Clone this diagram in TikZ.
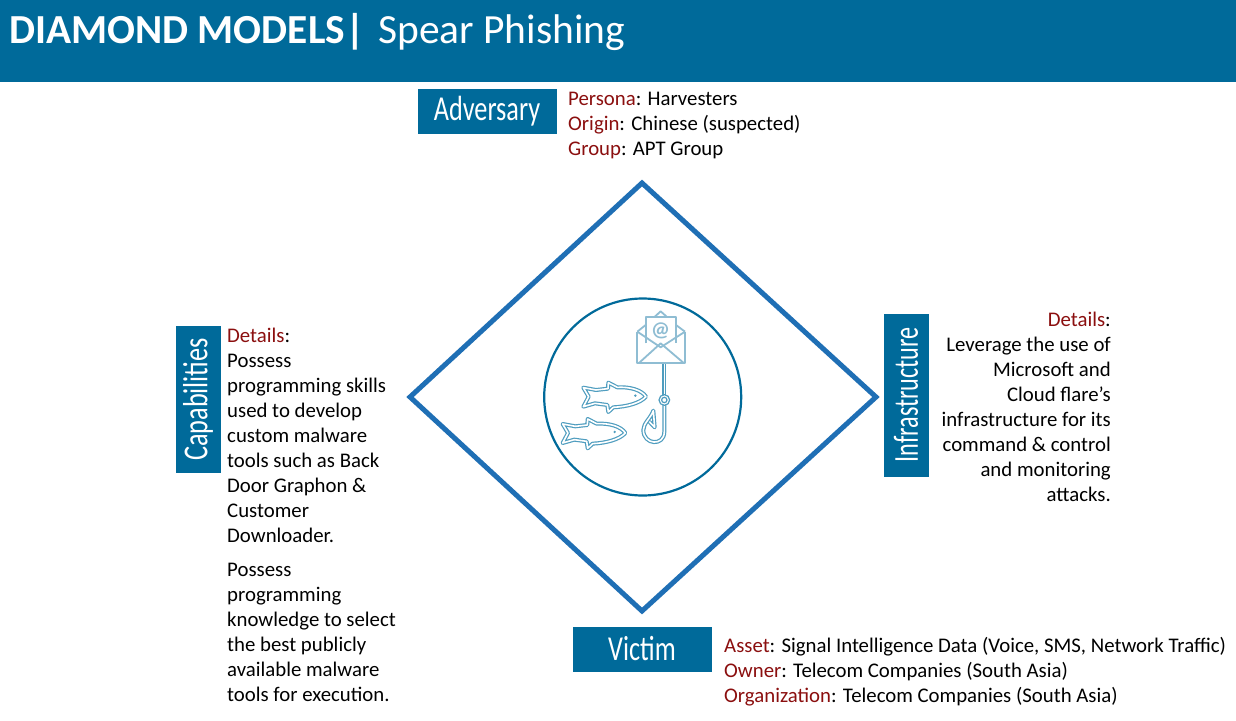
\documentclass[tikz,border=0pt]{standalone}
\usepackage{fontspec}
\setmainfont{Carlito}
\definecolor{hdr}{HTML}{006A9A}
\definecolor{dia}{HTML}{1F6FB5}
\definecolor{redt}{HTML}{8B0F0F}
\definecolor{lite}{HTML}{8FBDD3}
\definecolor{mid}{HTML}{4F9DBF}
\newcommand{\rd}[1]{\textcolor{redt}{#1}}
\newcommand{\lbl}[2][.75]{\scalebox{#1}[1]{\fontsize{35}{37}\selectfont #2}}
\tikzset{
 px/.style={x=1pt,y=-1pt},
 labelbox/.style={fill=hdr,text=white,inner sep=0pt},
 body/.style={inner sep=0pt,font=\fontsize{20.8}{25}\selectfont,text=black},
 iconline/.style={draw=#1,line width=1.2pt,double=white,double distance=1.6pt,line join=round},
}
\begin{document}
\begin{tikzpicture}[px]
\useasboundingbox (0,0) rectangle (1236,720);
\fill[white] (0,0) rectangle (1236,720);
\node[fill=hdr,minimum width=1236pt,minimum height=82pt,inner sep=0pt,anchor=north west] (header) at (0,0) {};
\node[anchor=base west,inner sep=0pt,text=white,font=\fontsize{41.3}{44}\selectfont\bfseries] (title) at (9,43) {DIAMOND MODELS|};
\node[anchor=base west,inner sep=0pt,text=white,font=\fontsize{41.5}{44}\selectfont] (subtitle) at (378,43) {Spear Phishing};
% diamond
\coordinate (dt) at (642,183);
\coordinate (dr) at (876,397);
\coordinate (db) at (642,611);
\coordinate (dl) at (410,397);
\draw[dia,line width=5pt,line join=miter] (dt) -- (dr) -- (db) -- (dl) -- cycle;
\node[circle,draw=hdr,line width=2.2pt,minimum size=197pt,inner sep=0pt] (ring) at (642.7,397) {};
% labels
\node[labelbox,minimum width=139pt,minimum height=45pt] (adv) at (487,111) {\raisebox{-3pt}{\lbl{Adversary}}};
\node[labelbox,minimum width=139pt,minimum height=45pt] (vic) at (642,649) {\raisebox{-2pt}{\lbl{Victim}}};
\node[labelbox,minimum width=45pt,minimum height=147pt] (cap) at (198,399.5) {\rotatebox{90}{\lbl{Capabilities}}};
\node[labelbox,minimum width=45pt,minimum height=163pt] (inf) at (906,395) {\rotatebox{90}{\lbl[.69]{Infrastructure}}};
% text
\node[body,anchor=north west,align=left] (advt) at (568,92) {\rd{Persona}: Harvesters\\\rd{Origin}: Chinese (suspected)\\\rd{Group}: APT Group};
\node[body,anchor=north west,align=left] (vict) at (724,637) {\rd{Asset}: Signal Intelligence Data (Voice, SMS, Network Traffic)\\\rd{Owner}: Telecom Companies (South Asia)\\\rd{Organization}: Telecom Companies (South Asia)};
\node[body,anchor=north west,align=left] (capt) at (227,328) {\rd{Details}:\\Possess\\programming skills\\used to develop\\custom malware\\tools such as Back\\Door Graphon \&\\Customer\\Downloader.\\[9pt]Possess\\programming\\knowledge to select\\the best publicly\\available malware\\tools for execution.};
\node[body,anchor=north east,align=right] (inft) at (1111,312) {\rd{Details}:\\Leverage the use of\\Microsoft and\\Cloud flare’s\\infrastructure for its\\command \& control\\and monitoring\\attacks.};
% icon
\begin{scope}[shift={(530,290)},x=0.3333pt,y=-0.3333pt]
 % hook
 \draw[iconline=mid] (403,222) -- (403,315);
 \draw[iconline=mid] (403,345) -- (403,425) .. controls (403,470) and (340,465) .. (340,420) .. controls (340,400) and (362,385) .. (370,362) -- (374,412) -- (358,395);
 \draw[mid,line width=1.2pt,fill=white] (403,330) circle (16);
 \draw[mid,line width=1.2pt] (403,330) circle (8);
 % envelope
 \draw[lite,line width=1.8pt,line join=round] (347,105) -- (392,64) -- (438,105);
 \draw[lite,line width=1.8pt,fill=white,line join=round] (347,160) -- (347,82) -- (438,82) -- (438,160);
 \draw[lite,line width=1.8pt,line join=round] (322,125) -- (322,220) -- (465,220) -- (465,125);
 \draw[lite,line width=1.8pt,line join=round] (322,125) -- (347,105) (465,125) -- (438,105);
 \draw[lite,line width=1.8pt,line join=round] (322,125) -- (392,172) -- (465,125);
 \draw[lite,line width=1.8pt,line join=round] (328,218) -- (392,160) -- (460,218);
 \node[text=lite,inner sep=0pt,font=\fontsize{21}{21}\selectfont\bfseries] (at) at (392,124) {@};
 % fish
 \foreach \dx/\dy in {0/0,-62/109}{
 \begin{scope}[shift={(\dx,\dy)}]
 \draw[iconline=mid] (160,293) -- (198,300) -- (234,296) -- (235,278) -- (262,292)
   .. controls (300,290) and (335,300) .. (348,320)
   .. controls (330,340) and (290,350) .. (250,352) -- (235,366) -- (232,345)
   -- (195,340) -- (160,350) -- (176,320) -- cycle;
 \fill[mid] (316,317) circle (4);
 \end{scope}
 }
\end{scope}
\end{tikzpicture}
\end{document}
